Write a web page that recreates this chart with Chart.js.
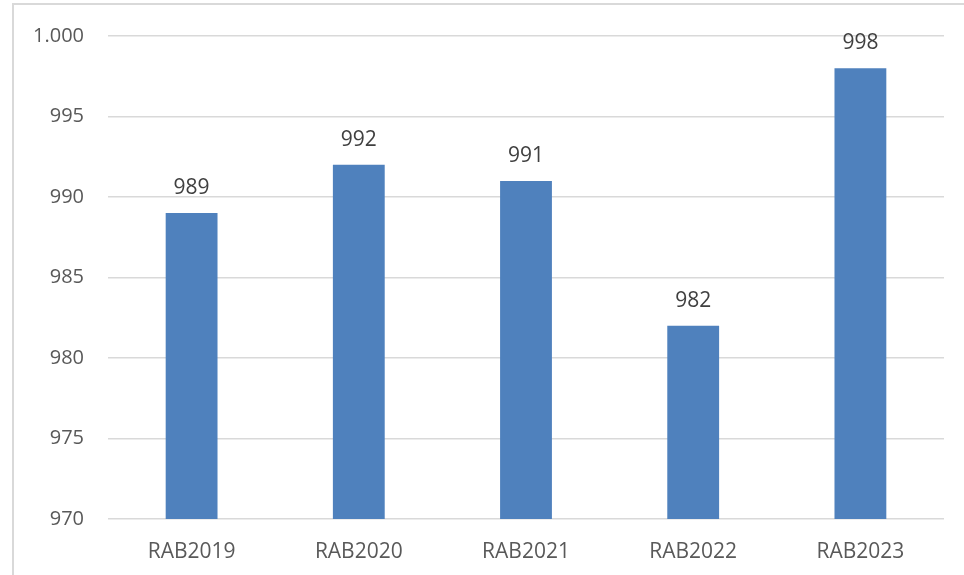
<!DOCTYPE html>
<html>
<head>
<meta charset="utf-8">
<script src="https://cdn.jsdelivr.net/npm/chart.js@4"></script>
<style>
    html, body { margin: 0; padding: 0; background: #fff; overflow: hidden; }
    #wrap { position: relative; width: 964px; height: 575px; }
    #frame { position: absolute; left: 12px; top: 3px; width: 1000px; height: 700px; border: 2px solid #d9d9d9; box-sizing: border-box; }
    canvas { position: absolute; left: 0; top: 0; }
</style>
</head>
<body>
<div id="wrap">
    <div id="frame"></div>
    <canvas id="rabChart" width="964" height="575"></canvas>
</div>
<script>
const categories = ['RAB2019', 'RAB2020', 'RAB2021', 'RAB2022', 'RAB2023'];
const values = [989, 992, 991, 982, 998];
const yTicks = [970, 975, 980, 985, 990, 995, 1000];

const textColor = '#595959';
const fontFamily = '"Open Sans", "Noto Sans", sans-serif';

// draws the value above every bar
const valueLabels = {
    id: 'valueLabels',
    afterDatasetsDraw(chart) {
        const ctx = chart.ctx;
        const meta = chart.getDatasetMeta(0);
        ctx.save();
        ctx.fillStyle = '#404040';
        ctx.font = '21px ' + fontFamily;
        ctx.textAlign = 'center';
        ctx.textBaseline = 'middle';
        meta.data.forEach((bar, i) => {
            ctx.fillText(values[i], bar.x, bar.y - 25);
        });
        ctx.restore();
    }
};

function initChart() {
    const ctx = document.getElementById('rabChart').getContext('2d');

    new Chart(ctx, {
        type: 'bar',
        data: {
            labels: categories,
            datasets: [{
                data: values,
                backgroundColor: '#4f81bd',
                borderWidth: 0,
                categoryPercentage: 1,
                barPercentage: 0.31
            }]
        },
        options: {
            responsive: false,
            animation: false,
            layout: {
                padding: { top: 24, right: 20, left: 0, bottom: 0 }
            },
            plugins: {
                legend: { display: false },
                tooltip: { enabled: false }
            },
            scales: {
                y: {
                    min: yTicks[0],
                    max: yTicks[yTicks.length - 1],
                    afterBuildTicks(scale) {
                        scale.ticks = yTicks.map(v => ({ value: v }));
                    },
                    afterFit(scale) {
                        scale.width = 108;
                    },
                    border: { display: false },
                    grid: {
                        color: '#d9d9d9',
                        lineWidth: 1.5,
                        drawTicks: false
                    },
                    ticks: {
                        color: textColor,
                        padding: 24,
                        font: { family: fontFamily, size: 20 },
                        callback: v => v.toLocaleString('de-DE')
                    }
                },
                x: {
                    afterFit(scale) {
                        scale.height = 56;
                    },
                    border: { display: false },
                    grid: { display: false },
                    ticks: {
                        color: textColor,
                        padding: 12,
                        font: { family: fontFamily, size: 21 }
                    }
                }
            }
        },
        plugins: [valueLabels]
    });
}

window.addEventListener('load', initChart);
</script>
</body>
</html>
